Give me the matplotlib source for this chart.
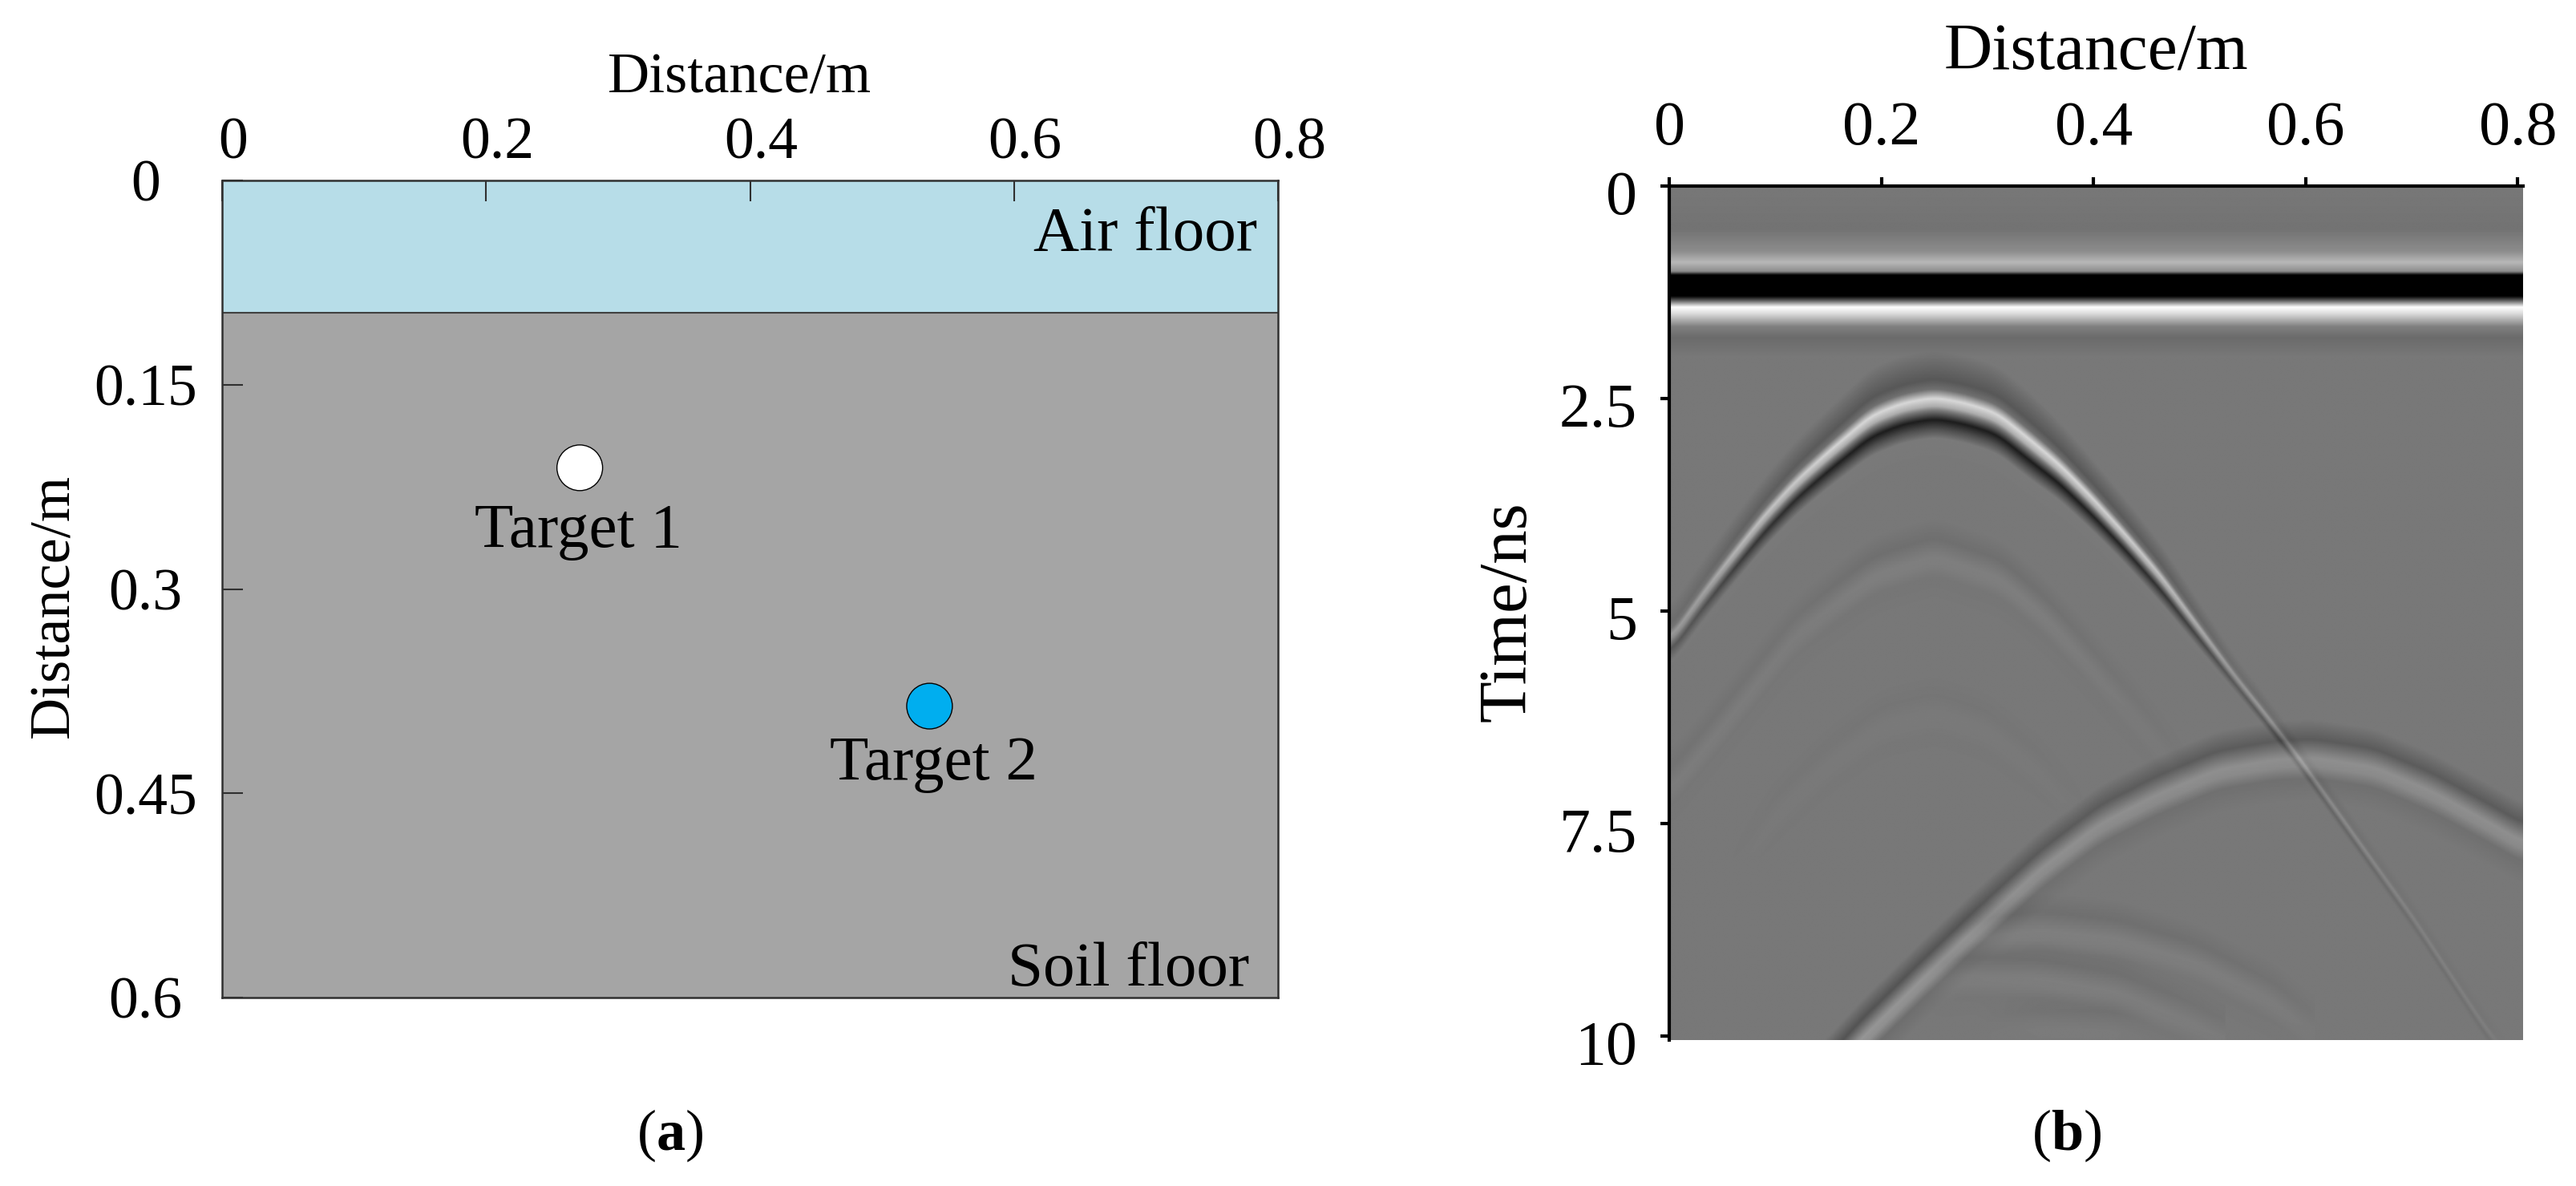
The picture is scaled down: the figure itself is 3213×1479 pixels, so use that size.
import numpy as np
import matplotlib
matplotlib.use("Agg")
import matplotlib.pyplot as plt
from matplotlib.transforms import ScaledTranslation

plt.rcParams['font.family'] = ['Liberation Serif', 'DejaVu Serif']
plt.rcParams['mathtext.fontset'] = 'custom'
plt.rcParams['mathtext.rm'] = 'Liberation Serif'
plt.rcParams['mathtext.bf'] = 'Liberation Serif:bold'

# panel a: model
x_ticks = [0, 0.2, 0.4, 0.6, 0.8]
x_labels = ['0', '0.2', '0.4', '0.6', '0.8']
depth_ticks = [0, 0.15, 0.3, 0.45, 0.6]
depth_labels = ['0', '0.15', '0.3', '0.45', '0.6']
air_bottom = 0.097
target_x = [0.271, 0.536]
target_depth = [0.211, 0.386]
target_colors = ['white', '#00AEEF']
target_names = ['Target 1', 'Target 2']

# panel b: picks (distance m, time ns)
time_ticks = [0, 2.5, 5, 7.5, 10]
time_labels = ['0', '2.5', '5', '7.5', '10']

direct_t = [0, 0.5, 0.76, 0.89, 1.0, 1.04, 1.29, 1.34, 1.42, 1.5, 1.65, 1.78, 2.0, 10]
direct_gray = [0.47, 0.45, 0.55, 0.72, 0.55, 0.0, 0.0, 0.35, 1.0, 0.85, 0.5, 0.42, 0.47, 0.47]

# main reflection from target 1
hyp1_x = [0, .030, .059, .089, .119, .149, .190, .220, .250, .279, .309, .339, .368, .398, .428, .463, .535, .561, .591, .647, .702, .772, .790]
hyp1_t = [5.43, 4.91, 4.45, 3.99, 3.59, 3.26, 2.84, 2.69, 2.625, 2.69, 2.81, 3.11, 3.40, 3.77, 4.17, 4.67, 5.84, 6.24, 6.72, 7.70, 8.66, 9.99, 10.25]
hyp1_amp = [.35, .45, .65, .8, .9, 1, 1.05, 1.05, 1.05, 1.05, 1.05, 1.05, 1.05, 1, .95, .8, .35, .35, .25, .2, .12, .08, 0]
hyp1_width = [.65, .7, .75, .8, .85, .9, 1, 1, 1, 1, 1, 1, .9, .82, .75, .68, .4, .38, .36, .35, .35, .35, .35]
strong_off = [-.7, -.36, -.25, -.14, -.05, 0, .11, .22, .33, .6]
strong_val = [0, -.12, -.03, .36, .2, 0, -.34, -.15, .01, 0]

# reflection from target 2
hyp2_x = [.14, .18, .239, .287, .350, .406, .461, .517, .572, .609, .665, .720, .776, .809]
hyp2_t = [10.6, 10.05, 9.33, 8.76, 8.04, 7.51, 7.16, 6.87, 6.75, 6.73, 6.84, 7.13, 7.51, 7.75]
hyp2_amp = [1.3, 1.3, 1.25, 1.15, 1.05, 1, 1, 1, 1, 1, 1, 1, 1, 1]
weak_off = [-.45, -.22, -.05, 0, .1, .24, .5]
weak_val = [0, -.11, .05, .09, .07, -.03, 0]

# multiples, barely visible
faint_x = [
    [0, .05, .119, .155, .193, .25, .312, .356, .386, .45, .5],
    [.05, .1, .15, .2, .25, .3, .35, .4],
    [.26, .302, .350, .424, .498, .572, .609],
    [.24, .276, .350, .424, .498, .524],
    [.29, .35, .42, .46],
]
faint_t = [
    [7.1, 6.35, 5.28, 4.92, 4.57, 4.35, 4.61, 5.08, 5.49, 6.4, 7.2],
    [8.3, 7.4, 6.8, 6.35, 6.2, 6.4, 6.9, 7.6],
    [9.05, 8.83, 8.76, 8.86, 9.14, 9.61, 9.99],
    [9.45, 9.30, 9.33, 9.49, 9.87, 10.05],
    [10.0, 9.92, 9.95, 10.05],
]
faint_amp = [
    [.18, .18, .18, .24, .3, .3, .3, .24, .18, .09, 0],
    [0, .06, .08, .09, .09, .09, .06, 0],
    [0, .3, .3, .3, .26, .19, .08],
    [0, .22, .26, .26, .19, .15],
    [0, .15, .15, 0],
]


def smooth_curve(xg, xs, ys):
    # picks are coarse so take the kinks out
    y = np.interp(xg, xs, ys)
    kernel = np.hanning(41)
    kernel = kernel / kernel.sum()
    pad = np.pad(y, 20, mode='edge')
    return np.convolve(pad, kernel, mode='valid')


def add_wave(img, xg, tg, xs, ts, amp, off, val, width=None):
    curve = smooth_curve(xg, xs, ts)
    strength = np.interp(xg, xs, amp, left=0, right=0)
    w = np.ones_like(xg) if width is None else smooth_curve(xg, xs, width)
    dt = (tg[:, None] - curve[None, :]) / w[None, :]
    img += strength[None, :] * np.interp(dt, off, val)


xg = np.linspace(0, 0.805, 800)
tg = np.linspace(0, 10.05, 800)
radar = np.tile(np.interp(tg, direct_t, direct_gray)[:, None], (1, len(xg)))
add_wave(radar, xg, tg, hyp1_x, hyp1_t, hyp1_amp, strong_off, strong_val, hyp1_width)
add_wave(radar, xg, tg, hyp2_x, hyp2_t, hyp2_amp, weak_off, weak_val)
for xs, ts, a in zip(faint_x, faint_t, faint_amp):
    add_wave(radar, xg, tg, xs, ts, a, weak_off, weak_val)

W, H = 3213, 1479
fig = plt.figure(figsize=(W / 100, H / 100), dpi=100)
ax_a = fig.add_axes([277 / W, 1 - 1244 / H, (1594 - 277) / W, (1244 - 225) / H])
ax_b = fig.add_axes([2082 / W, 1 - 1297 / H, (3147 - 2082) / W, (1297 - 232) / H])

# (a)
ax_a.axhspan(0, air_bottom, color='#B7DDE8', lw=0)
ax_a.axhspan(air_bottom, 0.6, color='#A5A5A5', lw=0)
ax_a.axhline(air_bottom, color='#404040', lw=1.5)
ax_a.scatter(target_x, target_depth, s=41**2, c=target_colors, edgecolors='black', linewidths=1, zorder=3)
ax_a.set_xlim(0, 0.8)
ax_a.set_ylim(0.6, 0)
ax_a.xaxis.tick_top()
ax_a.xaxis.set_label_position('top')
ax_a.set_xticks(x_ticks, x_labels)
ax_a.set_yticks(depth_ticks, depth_labels)
ax_a.tick_params(axis='both', direction='in', length=19, width=1.5, color='#303030', labelsize=53)
ax_a.tick_params(axis='x', pad=8)
ax_a.tick_params(axis='y', pad=69)
for lab in ax_a.get_yticklabels():
    lab.set_ha('center')
for lab in ax_a.get_xticklabels():
    lab.set_transform(lab.get_transform() + ScaledTranslation(14 / 100, 0, fig.dpi_scale_trans))
for s in ax_a.spines.values():
    s.set_linewidth(1.8)
    s.set_color('#303030')
ax_a.set_xlabel('Distance/m', fontsize=52, va='center')
ax_a.xaxis.set_label_coords(0.49, 1.125)
ax_a.set_ylabel('Distance/m', fontsize=52, va='center')
ax_a.yaxis.set_label_coords(-0.159, 0.479)

ax_a.text(0.270, 0.258, target_names[0], fontsize=57, ha='center', va='center')
ax_a.text(0.539, 0.429, target_names[1], fontsize=57, ha='center', va='center')
ax_a.text(0.784, 0.040, 'Air floor', fontsize=57, ha='right', va='center')
ax_a.text(0.778, 0.580, 'Soil floor', fontsize=57, ha='right', va='center')

# (b)
ax_b.imshow(radar, cmap='gray', vmin=0, vmax=1, extent=[0, 0.805, 10.05, 0], aspect='auto', interpolation='bilinear')
ax_b.xaxis.tick_top()
ax_b.xaxis.set_label_position('top')
ax_b.set_xticks(x_ticks, x_labels)
ax_b.set_yticks(time_ticks, time_labels)
ax_b.tick_params(axis='both', direction='out', length=8, width=3, labelsize=56)
ax_b.tick_params(axis='x', pad=17)
ax_b.tick_params(axis='y', pad=21)
for lab in ax_b.get_yticklabels():
    lab.set_transform(lab.get_transform() + ScaledTranslation(0, -8 / 100, fig.dpi_scale_trans))
ax_b.spines['right'].set_visible(False)
ax_b.spines['bottom'].set_visible(False)
ax_b.spines['left'].set_linewidth(3)
ax_b.spines['top'].set_linewidth(3)
ax_b.set_xlabel('Distance/m', fontsize=60, va='center')
ax_b.xaxis.set_label_coords(0.5, 1.155)
ax_b.set_ylabel('Time/ns', fontsize=61, va='center')
ax_b.yaxis.set_label_coords(-0.188, 0.502)

fig.text(408 * 2.049 / W, 1 - 691 * 2.049 / H, r'($\mathbf{a}$)', fontsize=52, ha='center', va='center')
fig.text(1258 * 2.049 / W, 1 - 691 * 2.049 / H, r'($\mathbf{b}$)', fontsize=52, ha='center', va='center')

fig.savefig('out.png', dpi=100)
